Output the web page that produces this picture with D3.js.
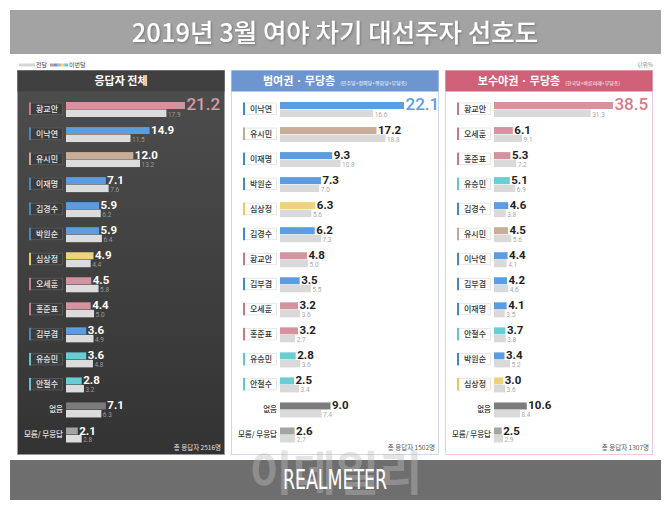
<!DOCTYPE html>
<html><head><meta charset="utf-8">
<script src="https://cdn.jsdelivr.net/npm/d3@7"></script>
<style>body{margin:0;background:#fff}svg{display:block}</style>
</head><body><svg id="c" width="670" height="507"></svg>
<script>
// ---------- data ----------
const chartTitle = "2019년 3월 여야 차기 대선주자 선호도";
const panelTitles = ["응답자 전체", "범여권 · 무당층", "보수야권 · 무당층"];
const panelNotes = ["", "(민주당+정의당+평화당+무당층)", "(한국당+바른미래+무당층)"];
const respondents = [2516, 1502, 1307];

const namesAll = ["황교안","이낙연","유시민","이재명","김경수","박원순","심상정","오세훈","홍준표","김부겸","유승민","안철수","없음","모름/ 무응답"];
const curAll   = [21.2, 14.9, 12.0, 7.1, 5.9, 5.9, 4.9, 4.5, 4.4, 3.6, 3.6, 2.8, 7.1, 2.1];
const prevAll  = [17.9, 11.5, 13.2, 7.6, 6.2, 6.4, 4.4, 5.8, 5.0, 4.9, 4.8, 3.2, 6.3, 2.8];

const namesLib = ["이낙연","유시민","이재명","박원순","심상정","김경수","황교안","김부겸","오세훈","홍준표","유승민","안철수","없음","모름/ 무응답"];
const curLib   = [22.1, 17.2, 9.3, 7.3, 6.3, 6.2, 4.8, 3.5, 3.2, 3.2, 2.8, 2.5, 9.0, 2.6];
const prevLib  = [16.6, 18.8, 10.8, 7.0, 5.6, 7.3, 5.0, 5.5, 3.6, 2.7, 3.6, 3.4, 7.4, 2.7];

const namesCon = ["황교안","오세훈","홍준표","유승민","김경수","유시민","이낙연","김부겸","이재명","안철수","박원순","심상정","없음","모름/ 무응답"];
const curCon   = [38.5, 6.1, 5.3, 5.1, 4.6, 4.5, 4.4, 4.2, 4.1, 3.7, 3.4, 3.0, 10.6, 2.5];
const prevCon  = [31.3, 9.1, 7.2, 6.9, 3.8, 5.6, 4.1, 4.6, 3.5, 3.8, 5.2, 3.6, 8.4, 2.9];

const legendLabels = ["전달", "이번달"];
const unitLabel = "단위%";

// ---------- styles ----------
const partyColor = {
  "황교안":"#d4949f","오세훈":"#d4949f","홍준표":"#d4949f",
  "이낙연":"#5b9de0","이재명":"#5b9de0","김경수":"#5b9de0","박원순":"#5b9de0","김부겸":"#5b9de0",
  "유시민":"#c9ad98","심상정":"#efd27c","유승민":"#67ced3","안철수":"#67ced3",
  "없음":"#7c7c7c","모름/ 무응답":"#a4a4a4"
};
const tickColor = {
  "황교안":"#c97886","오세훈":"#c97886","홍준표":"#c97886",
  "이낙연":"#3d8cc9","이재명":"#3d8cc9","김경수":"#3d8cc9","박원순":"#3d8cc9","김부겸":"#3d8cc9",
  "유시민":"#c6a892","심상정":"#e8c95a","유승민":"#5cc8cf","안철수":"#5cc8cf"
};
const KR = "'Noto Sans CJK KR','Noto Sans',sans-serif";

const panels = [
  {names:namesAll, cur:curAll, prev:prevAll, x:17, dark:true,  head:"#404040", border:"#9a9a9a", top:"#222", big:"#da9ba6", px:5.61},
  {names:namesLib, cur:curLib, prev:prevLib, x:231, dark:false, head:"#6d95d0", border:"#cbd8ee", top:"#222", big:"#5b9de0", px:5.61},
  {names:namesCon, cur:curCon, prev:prevCon, x:445, dark:false, head:"#cf6078", border:"#f0cbd3", top:"#222", big:"#d87b88", px:3.09}
];

const svg = d3.select("#c");
const defs = svg.append("defs");
const g1 = defs.append("linearGradient").attr("id","darkg").attr("x1",0).attr("y1",0).attr("x2",0).attr("y2",1);
g1.append("stop").attr("offset","0%").attr("stop-color","#4e4e4e");
g1.append("stop").attr("offset","100%").attr("stop-color","#333333");
const sh = defs.append("filter").attr("id","tsh").attr("x","-10%").attr("y","-30%").attr("width","120%").attr("height","160%");
sh.append("feDropShadow").attr("dx",1).attr("dy",1).attr("stdDeviation",0.8).attr("flood-color","#555").attr("flood-opacity",0.6);

// title bar
svg.append("rect").attr("x",10).attr("y",10).attr("width",651).attr("height",44).attr("fill","#a3a3a3");
svg.append("text").attr("x",335).attr("y",42).attr("text-anchor","middle")
  .attr("font-family",KR).attr("font-size",25.5).attr("font-weight",500).attr("fill","#fff")
  .attr("filter","url(#tsh)").text(chartTitle);

// legend
svg.append("rect").attr("x",19).attr("y",63.5).attr("width",16).attr("height",3).attr("fill","#d5d5d5");
svg.append("text").attr("x",36).attr("y",67).attr("font-family",KR).attr("font-size",6).attr("fill","#444").text(legendLabels[0]);
const legCols = ["#d4949f","#5b9de0","#c9ad98","#efd27c","#67ced3"];
const legX = d3.scaleBand().domain(d3.range(legCols.length)).range([50,68]);
svg.selectAll(".leg").data(legCols).join("rect").attr("x",(d,i)=>legX(i)).attr("y",63.5)
  .attr("width",legX.bandwidth()+0.3).attr("height",3).attr("fill",d=>d);
svg.append("text").attr("x",69).attr("y",67).attr("font-family",KR).attr("font-size",6).attr("fill","#444").text(legendLabels[1]);
svg.append("text").attr("x",653).attr("y",67).attr("text-anchor","end").attr("font-family",KR).attr("font-size",5.5).attr("fill","#888").text(unitLabel);

const PW = 207, PT = 70, PB = 454, HH = 21;
const rowY = d3.scaleLinear().domain([0,13]).range([108.5, 434]);

panels.forEach((p, pi) => {
  const px = p.x;
  svg.append("rect").attr("x",px+0.5).attr("y",PT+0.5).attr("width",PW).attr("height",PB-PT)
    .attr("fill",p.dark?"url(#darkg)":"#fff").attr("stroke",p.border).attr("stroke-width",1);
  svg.append("rect").attr("x",px+0.5).attr("y",PT+0.5).attr("width",PW).attr("height",HH).attr("fill",p.head);
  const ht = svg.append("text").attr("x",px+PW/2+0.5).attr("y",PT+15).attr("text-anchor","middle")
    .attr("font-family",KR).attr("fill","#fff");
  ht.append("tspan").attr("font-size",11).attr("font-weight",700).text(panelTitles[pi]);
  if (panelNotes[pi]) ht.append("tspan").attr("dx",5).attr("font-size",5).attr("font-weight",400).text(panelNotes[pi]);

  const x = d3.scaleLinear().domain([0,10]).range([0,p.px*10]);
  const x0 = px + 49;
  const labCol = p.dark ? "#e6e6e6" : "#333";

  p.names.forEach((name, i) => {
    const c = rowY(i);
    const isCand = tickColor[name] !== undefined;
    if (isCand) {
      svg.append("rect").attr("x",px+12.5).attr("y",c-5.5).attr("width",33).attr("height",11.5)
        .attr("fill",p.dark?"#3c3c3c":"#fff").attr("stroke",p.dark?"#5c5c5c":"#e2e2e2").attr("stroke-width",0.8);
      svg.append("rect").attr("x",px+12).attr("y",c-6).attr("width",2).attr("height",12.5).attr("fill",tickColor[name]);
      svg.append("text").attr("x",px+30).attr("y",c+3).attr("text-anchor","middle")
        .attr("font-family",KR).attr("font-size",8).attr("font-weight",500).attr("fill",labCol).text(name);
    } else {
      svg.append("text").attr("x",px+46).attr("y",c+3).attr("text-anchor","end")
        .attr("font-family",KR).attr("font-size",7.5).attr("font-weight",500).attr("fill",labCol).text(name);
    }
    const wc = x(p.cur[i]), wp = x(p.prev[i]);
    svg.append("rect").attr("x",x0).attr("y",c-6.5).attr("width",wc).attr("height",7).attr("fill",partyColor[name]);
    svg.append("rect").attr("x",x0).attr("y",c+1).attr("width",wp).attr("height",7.5)
      .attr("fill",p.dark?"#dcdcdc":"#d9d9d9");
    const big = i===0;
    svg.append("text").attr("x",x0+wc+1.5).attr("y",big?c+1.8:c+0.5)
      .attr("font-family","Roboto,'DejaVu Sans',sans-serif").attr("font-size",big?17:11.5)
      .attr("font-weight",big?500:700)
      .attr("fill",big?p.big:(p.dark?"#fff":p.top)).text(d3.format(".1f")(p.cur[i]));
    svg.append("text").attr("x",x0+wp+1.5).attr("y",c+8)
      .attr("font-family","Roboto,sans-serif").attr("font-size",6.5)
      .attr("fill",p.dark?"#9a9a9a":"#a8a8a8").text(d3.format(".1f")(p.prev[i]));
  });

  svg.append("text").attr("x",px+PW-3).attr("y",450).attr("text-anchor","end")
    .attr("font-family",KR).attr("font-size",6.5).attr("fill",p.dark?"#e0e0e0":"#555")
    .text(`총 응답자 ${respondents[pi]}명`);
});

// footer
svg.append("rect").attr("x",10).attr("y",460).attr("width",651).attr("height",40).attr("fill","#6e6e6e");
svg.append("text").attr("x",336).attr("y",490).attr("text-anchor","middle")
  .attr("font-family",KR).attr("font-size",47).attr("font-weight",700)
  .attr("fill","rgba(190,190,190,0.42)").text("이데일리");
svg.append("text").attr("x",335).attr("y",489).attr("text-anchor","middle")
  .attr("font-family","'Liberation Sans Narrow','DejaVu Sans Condensed',sans-serif")
  .attr("font-size",27).attr("fill","#fff").attr("textLength",104).attr("lengthAdjust","spacingAndGlyphs")
  .text("REALMETER");
</script></body></html>
